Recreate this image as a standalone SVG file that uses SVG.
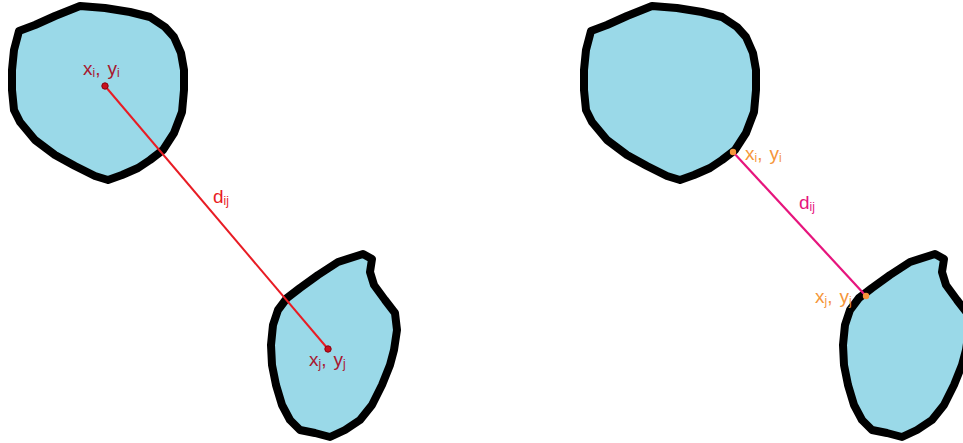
<svg xmlns="http://www.w3.org/2000/svg" width="963" height="443" viewBox="0 0 963 443">
<defs>
<style>
.blob{fill:#9ad9e8;stroke:#000;stroke-width:8;stroke-linejoin:round}
.t{font-family:"Liberation Sans",Arial,sans-serif;font-size:19px}
.s{font-size:12px}
.lab1{fill:#a8172e}
.red{fill:#e81c24}
.org{fill:#f5963a}
.mag{fill:#e6157d}
</style>
<path id="b1" d="M19,31 L35,25 L55,16 L80,6 L105,8 L130,12 L150,17 L165,27 L174,37 L181,53 L184,70 L184,90 L182,112 L174,133 L163,150 L150,160 L138,168 L122,175 L108,180 L95,176 L75,166 L55,155 L35,140 L20,122 L14,110 L12,90 L12,70 L14,50 Z"/>
<path id="b2" d="M363,254 L372,259 L370,272 L374,285 L385,300 L395,313 L397,330 L394,350 L390,365 L382,385 L372,405 L360,420 L345,430 L330,437 L315,433 L300,430 L290,420 L282,405 L276,385 L272,365 L271,345 L273,325 L278,310 L287,298 L300,288 L318,275 L338,262 Z"/>
</defs>
<rect width="963" height="443" fill="#fff"/>
<g id="blob-i-left"><use href="#b1" class="blob"/></g>
<g id="blob-j-left"><use href="#b2" class="blob"/></g>
<g id="blob-i-right"><use href="#b1" class="blob" transform="translate(572,0)"/></g>
<g id="blob-j-right"><use href="#b2" class="blob" transform="translate(572,0)"/></g>
<g id="connectors">
<line x1="105" y1="86" x2="328" y2="349" stroke="#e81c24" stroke-width="2"/>
<line x1="733" y1="152" x2="866" y2="296" stroke="#e6157d" stroke-width="2.2"/>
</g>
<g id="points">
<circle cx="105" cy="86" r="3.2" fill="#c8101c" stroke="#8a0010" stroke-width="1"/>
<circle cx="328" cy="349" r="3.2" fill="#c8101c" stroke="#8a0010" stroke-width="1"/>
<circle cx="733" cy="152" r="3.2" fill="#f5963a"/>
<circle cx="866" cy="296" r="3.2" fill="#f5963a"/>
</g>
<g id="labels">
<text class="t lab1" x="83" y="75">x<tspan class="s" dy="2">i</tspan><tspan dy="-2">,</tspan><tspan dx="7">y</tspan><tspan class="s" dy="2">i</tspan></text>
<text class="t red" x="213" y="203">d<tspan class="s" dy="2">ij</tspan></text>
<text class="t lab1" x="309" y="366">x<tspan class="s" dy="2">j</tspan><tspan dy="-2">,</tspan><tspan dx="7">y</tspan><tspan class="s" dy="2">j</tspan></text>
<text class="t org" x="745" y="160">x<tspan class="s" dy="2">i</tspan><tspan dy="-2">,</tspan><tspan dx="7">y</tspan><tspan class="s" dy="2">i</tspan></text>
<text class="t mag" x="799" y="209">d<tspan class="s" dy="2">ij</tspan></text>
<text class="t org" x="815" y="303">x<tspan class="s" dy="2">j</tspan><tspan dy="-2">,</tspan><tspan dx="7">y</tspan><tspan class="s" dy="2">j</tspan></text>
</g>
</svg>
